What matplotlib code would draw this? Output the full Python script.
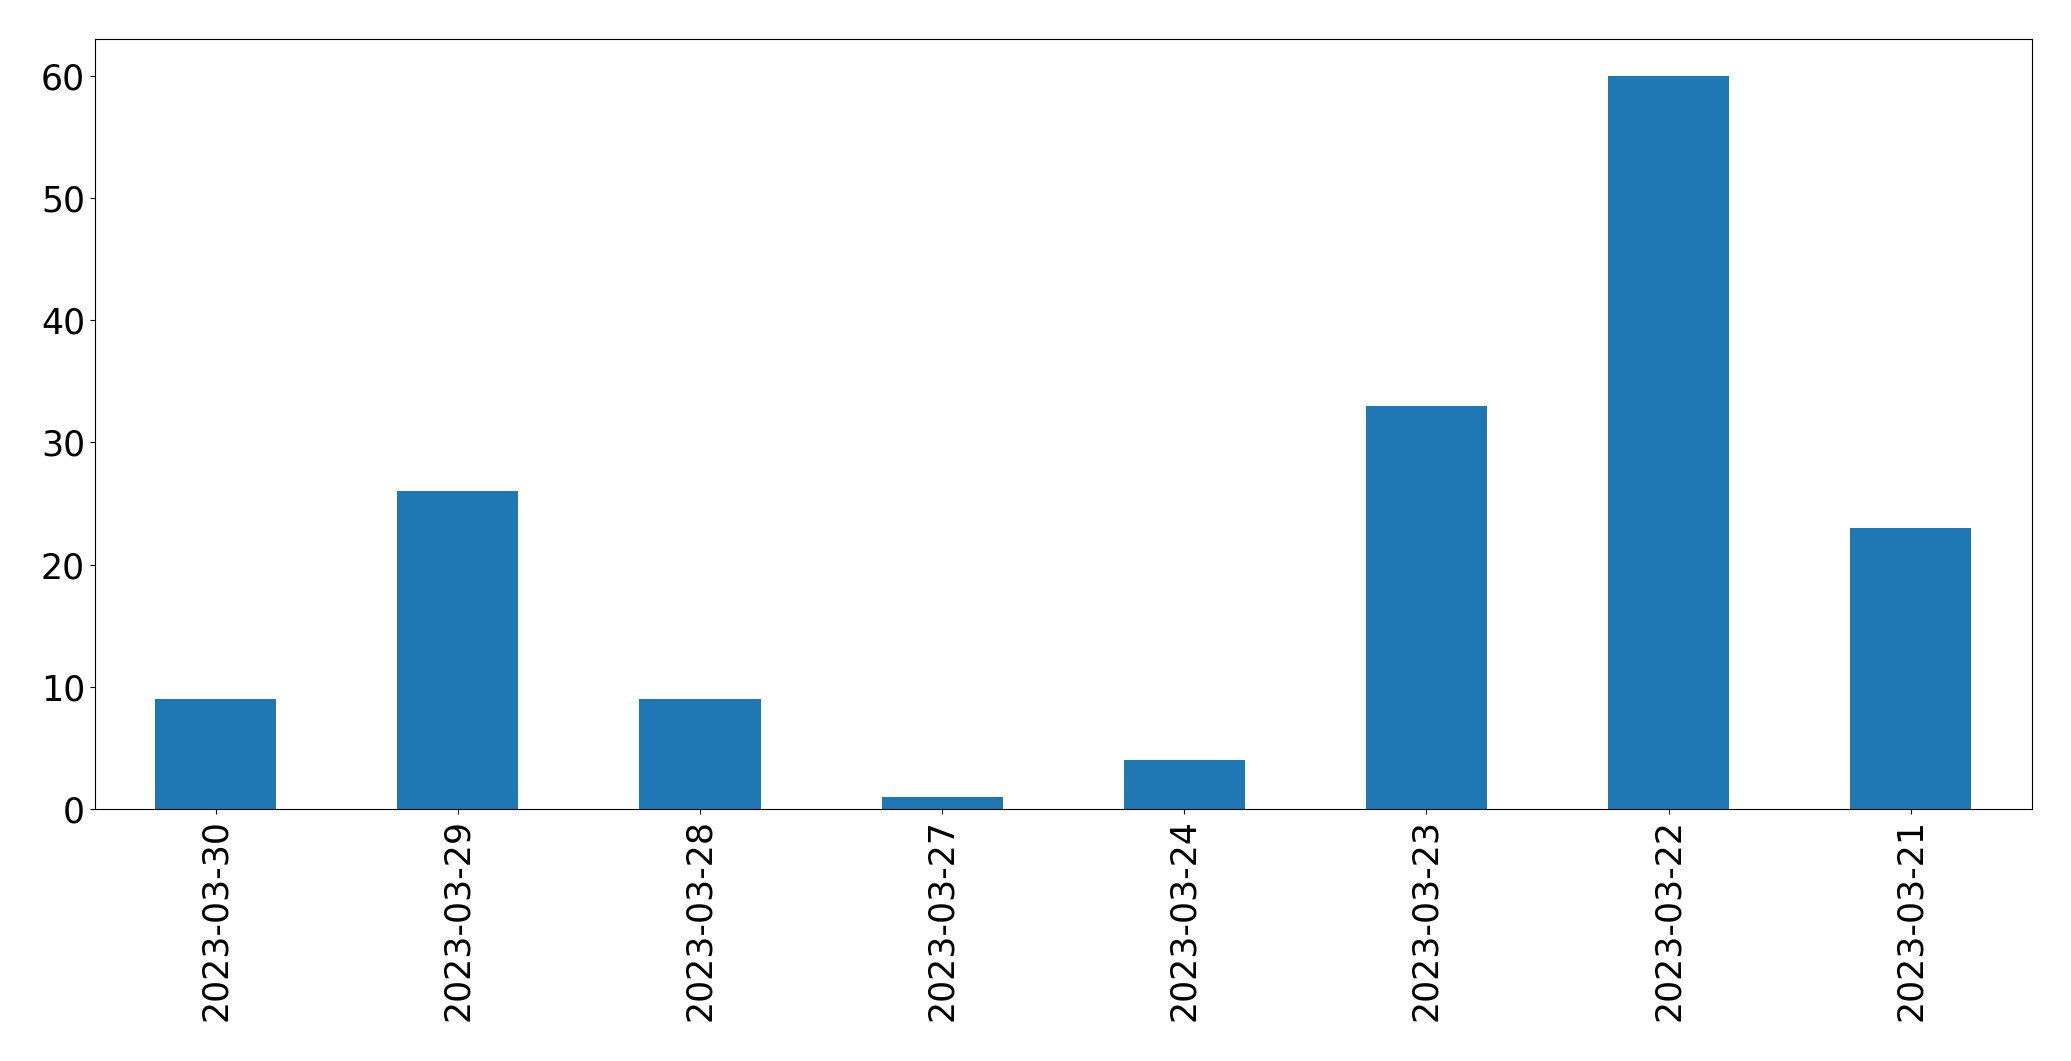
import matplotlib
matplotlib.use("Agg")
import matplotlib.pyplot as plt

dates = ["2023-03-30", "2023-03-29", "2023-03-28", "2023-03-27",
         "2023-03-24", "2023-03-23", "2023-03-22", "2023-03-21"]
counts = [9, 26, 9, 1, 4, 33, 60, 23]

fig = plt.figure(figsize=(20.71, 10.61), dpi=100)
ax = fig.add_axes([94.7 / 2071, 252 / 1061, (2031.7 - 94.7) / 2071, (809 - 39.3) / 1061])
x = list(range(len(dates)))
ax.bar(x, counts, width=0.5, color="#1f77b4")
ax.set_xlim(-0.5, len(dates) - 0.5)
ax.set_ylim(0, 63)
ax.set_xticks(x)
ax.set_xticklabels(dates, rotation=90)
ax.set_yticks([0, 10, 20, 30, 40, 50, 60])
ax.tick_params(labelsize=25)
fig.savefig("out.png", dpi=100)
